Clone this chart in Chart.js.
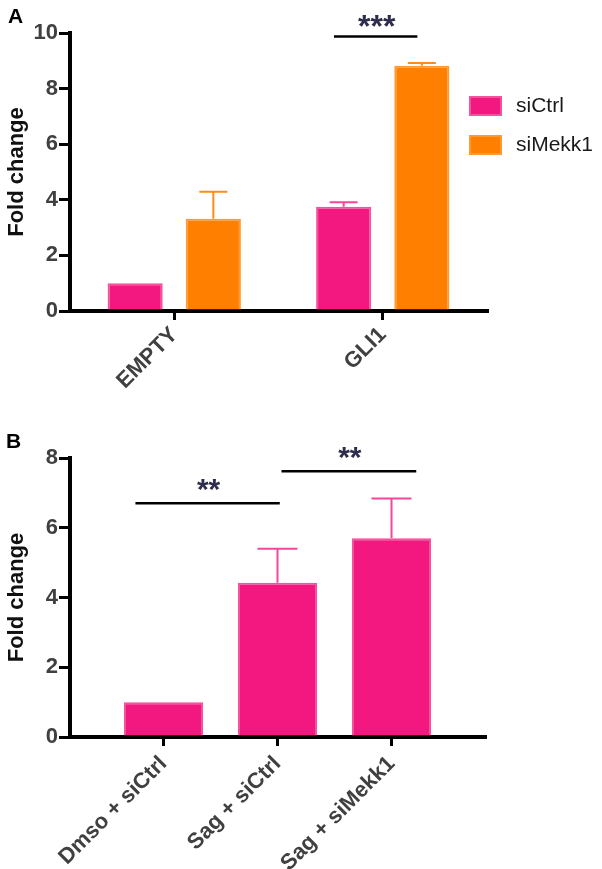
<!DOCTYPE html>
<html><head><meta charset="utf-8">
<script src="https://cdn.jsdelivr.net/npm/chart.js@4.4.0/dist/chart.umd.min.js"></script>
<style>
html,body{margin:0;padding:0;background:#fff;}
#wrapA{position:absolute;left:0;top:0;width:602px;height:420px;}
#wrapB{position:absolute;left:0;top:420px;width:602px;height:449px;}
</style></head><body>
<div id="wrapA"><canvas id="chartA" width="602" height="420"></canvas></div>
<div id="wrapB"><canvas id="chartB" width="602" height="449"></canvas></div>
<script>
// ---- Panel A data ----
const categoriesA = ['EMPTY', 'GLI1'];
const seriesNamesA = ['siCtrl', 'siMekk1'];
const siCtrlA = [1.0, 3.75];
const siCtrlErrA = [0, 0.16];
const siMekk1A = [3.32, 8.82];
const siMekk1ErrA = [0.97, 0.10];
const yTicksA = [0, 2, 4, 6, 8, 10];
const sigFromA = [0.766];
const sigToA = [1.166];
const sigYA = [9.87];
const sigLabelA = ['***'];

// ---- Panel B data ----
const categoriesB = ['Dmso + siCtrl', 'Sag + siCtrl', 'Sag + siMekk1'];
const valuesB = [1.0, 4.42, 5.70];
const errB = [0, 0.98, 1.14];
const yTicksB = [0, 2, 4, 6, 8];
const sigFromB = [-0.246, 1.035];
const sigToB = [1.02, 2.217];
const sigYB = [6.70, 7.62];
const sigLabelB = ['**', '**'];

const FONT = "'Liberation Sans', Arial, Helvetica, sans-serif";
const PINK = '#F2187F', PINK_B = '#F5529D', PINK_E = '#F2479A';
const ORANGE = '#FF8000', ORANGE_B = '#FF9A33', ORANGE_E = '#FF8C1A';
const TICKCOL = '#404040';

function errorBarPlugin(errs, colors, capW) {
  return {
    id: 'errbars',
    afterDatasetsDraw(chart) {
      const ctx = chart.ctx, ys = chart.scales.y;
      chart.data.datasets.forEach((ds, di) => {
        const meta = chart.getDatasetMeta(di);
        meta.data.forEach((bar, i) => {
          const e = errs[di][i];
          if (!e) return;
          const raw = ds.data[i];
          const v = typeof raw === 'object' ? raw.y : raw;
          const y0 = ys.getPixelForValue(v);
          const y1 = ys.getPixelForValue(v + e);
          ctx.save();
          ctx.strokeStyle = colors[di];
          ctx.lineWidth = 2;
          ctx.beginPath();
          ctx.moveTo(bar.x, y0); ctx.lineTo(bar.x, y1);
          ctx.moveTo(bar.x - capW / 2, y1); ctx.lineTo(bar.x + capW / 2, y1);
          ctx.stroke();
          ctx.restore();
        });
      });
    }
  };
}

function sigPlugin(from, to, yv, labels, fontSize, gap) {
  return {
    id: 'sig',
    afterDraw(chart) {
      const ctx = chart.ctx, xs = chart.scales.x, ys = chart.scales.y;
      for (let k = 0; k < from.length; k++) {
        const x1 = xs.getPixelForValue(from[k]);
        const x2 = xs.getPixelForValue(to[k]);
        const y = ys.getPixelForValue(yv[k]);
        ctx.save();
        ctx.strokeStyle = '#000';
        ctx.lineWidth = 2.5;
        ctx.beginPath(); ctx.moveTo(x1, y); ctx.lineTo(x2, y); ctx.stroke();
        ctx.fillStyle = '#2e2e4c';
        ctx.font = 'bold ' + fontSize + 'px ' + FONT;
        ctx.textAlign = 'center';
        ctx.textBaseline = 'alphabetic';
        ctx.fillText(labels[k], (x1 + x2) / 2 + 1, y + gap);
        ctx.restore();
      }
    }
  };
}

function panelLabelPlugin(text, x, y) {
  return {
    id: 'panelLabel',
    afterDraw(chart) {
      const ctx = chart.ctx;
      ctx.save();
      ctx.fillStyle = '#000';
      ctx.font = 'bold 21px ' + FONT;
      ctx.textAlign = 'left';
      ctx.textBaseline = 'alphabetic';
      ctx.fillText(text, x, y);
      ctx.restore();
    }
  };
}

const legendPluginA = {
  id: 'customLegend',
  afterDraw(chart) {
    const ctx = chart.ctx;
    const items = [[seriesNamesA[0], PINK, PINK_B, 96], [seriesNamesA[1], ORANGE, ORANGE_B, 135]];
    items.forEach(([name, fill, border, top]) => {
      ctx.save();
      ctx.fillStyle = border;
      ctx.fillRect(469, top, 33, 20);
      ctx.fillStyle = fill;
      ctx.fillRect(471, top + 2, 29, 16);
      ctx.fillStyle = '#1a1a1a';
      ctx.font = '21px ' + FONT;
      ctx.textAlign = 'left';
      ctx.textBaseline = 'middle';
      ctx.fillText(name, 516, top + 10);
      ctx.restore();
    });
  }
};

function yScale(max, ticks) {
  return {
    type: 'linear', min: 0, max: max,
    afterBuildTicks: s => { s.ticks = ticks.map(v => ({ value: v })); },
    afterFit: s => { s.width = 70; },
    border: { display: true, color: '#000', width: 4 },
    grid: { drawOnChartArea: false, drawTicks: true, tickLength: 11, lineWidth: 3, color: '#000' },
    ticks: { color: TICKCOL, padding: 1, font: { family: FONT, size: 22, weight: 'bold' } },
    title: { display: true, text: 'Fold change', color: '#111', padding: { top: 4, bottom: 0 },
             font: { family: FONT, size: 22, weight: 'bold' } }
  };
}

// ---- Chart A ----
new Chart(document.getElementById('chartA'), {
  type: 'bar',
  data: {
    labels: categoriesA,
    datasets: [
      { label: seriesNamesA[0], data: siCtrlA, backgroundColor: PINK, borderColor: PINK_B, borderWidth: 2,
        categoryPercentage: 0.75, barPercentage: 0.705 },
      { label: seriesNamesA[1], data: siMekk1A, backgroundColor: ORANGE, borderColor: ORANGE_B, borderWidth: 2,
        categoryPercentage: 0.75, barPercentage: 0.705 }
    ]
  },
  options: {
    responsive: false, animation: false, devicePixelRatio: 1,
    layout: { padding: { left: 0, top: 33, right: 115, bottom: 0 } },
    plugins: { legend: { display: false }, tooltip: { enabled: false } },
    scales: {
      x: {
        offset: true,
        afterFit: s => { s.height = 109; },
        border: { display: true, color: '#000', width: 4 },
        grid: { offset: false, drawOnChartArea: false, drawTicks: true, tickLength: 9, lineWidth: 3, color: '#000' },
        ticks: { color: TICKCOL, maxRotation: 45, minRotation: 45, padding: 2, autoSkip: false,
                 font: { family: FONT, size: 22, weight: 'bold' } }
      },
      y: yScale(10, yTicksA)
    }
  },
  plugins: [errorBarPlugin([siCtrlErrA, siMekk1ErrA], [PINK_E, ORANGE_E], 28),
            sigPlugin(sigFromA, sigToA, sigYA, sigLabelA, 32, 0),
            panelLabelPlugin('A', 8, 23), legendPluginA]
});

// ---- Chart B ----
new Chart(document.getElementById('chartB'), {
  type: 'bar',
  data: {
    datasets: [
      { label: 'Fold change', data: valuesB.map((v, i) => ({ x: i, y: v })),
        backgroundColor: PINK, borderColor: PINK_B, borderWidth: 2,
        categoryPercentage: 1, barPercentage: 0.693 }
    ]
  },
  options: {
    responsive: false, animation: false, devicePixelRatio: 1,
    layout: { padding: { left: 0, top: 38, right: 117, bottom: 0 } },
    plugins: { legend: { display: false }, tooltip: { enabled: false } },
    scales: {
      x: {
        type: 'linear', min: -0.82, max: 2.82, offset: false,
        afterBuildTicks: s => { s.ticks = categoriesB.map((_, i) => ({ value: i })); },
        afterFit: s => { s.height = 132; },
        border: { display: true, color: '#000', width: 4 },
        grid: { offset: false, drawOnChartArea: false, drawTicks: true, tickLength: 9, lineWidth: 3, color: '#000' },
        ticks: { color: TICKCOL, maxRotation: 45, minRotation: 45, padding: 5, autoSkip: false,
                 callback: v => categoriesB[v] !== undefined ? categoriesB[v] : '',
                 font: { family: FONT, size: 22, weight: 'bold' } }
      },
      y: yScale(8, yTicksB)
    }
  },
  plugins: [errorBarPlugin([errB], [PINK_E], 40),
            sigPlugin(sigFromB, sigToB, sigYB, sigLabelB, 30, -4),
            panelLabelPlugin('B', 6, 28)]
});
</script>
</body></html>
